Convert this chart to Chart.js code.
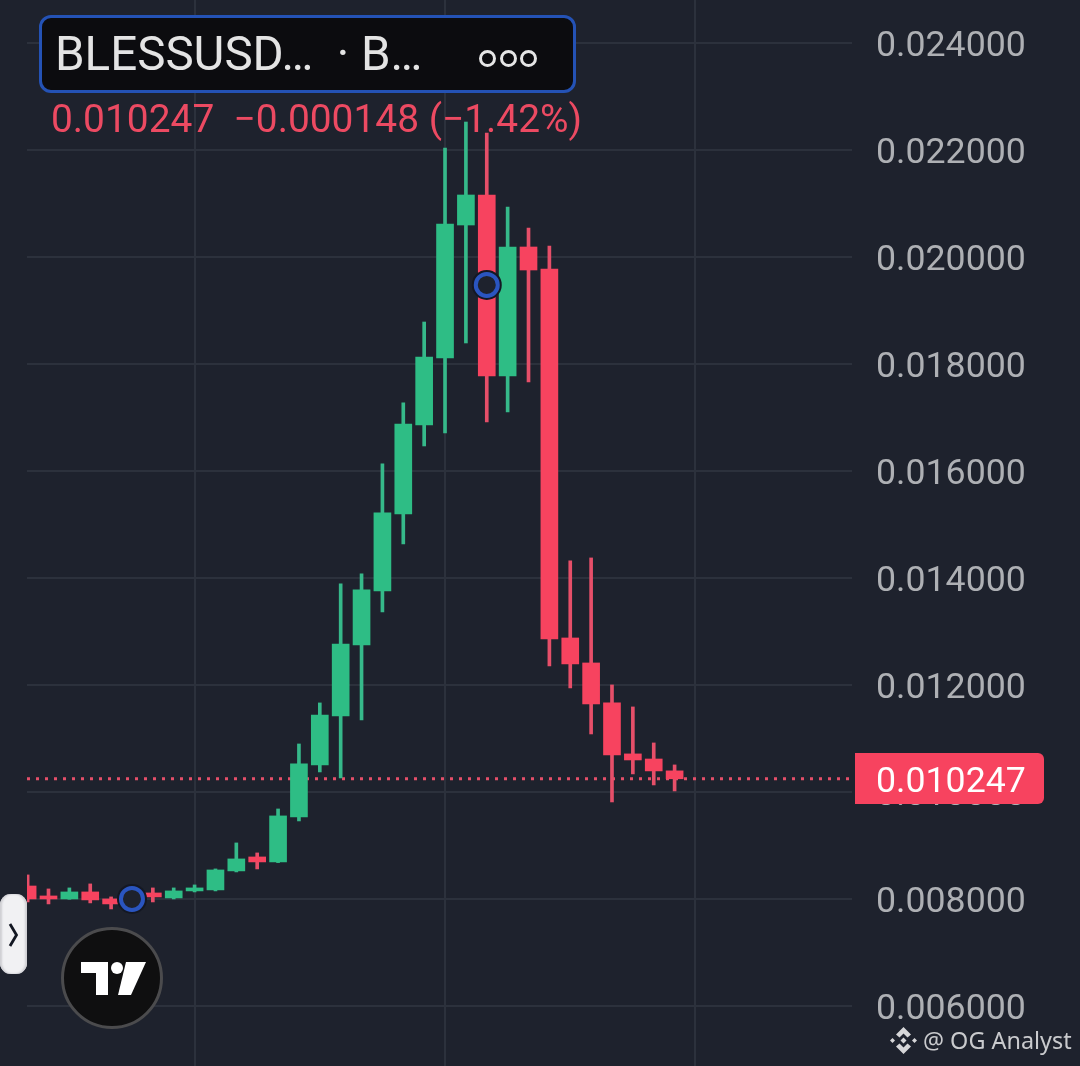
<!DOCTYPE html>
<html>
<head>
<meta charset="utf-8">
<title>BLESSUSD</title>
<script src="https://cdn.jsdelivr.net/npm/chart.js@4"></script>
<style>
    html, body { margin:0; padding:0; background:#1e222d; width:1080px; height:1066px; overflow:hidden; font-family:Roboto, sans-serif; }
    #wrap { position:relative; width:1080px; height:1066px; }
    canvas { position:absolute; left:0; top:0; }
    .abs { position:absolute; white-space:pre; }
    .ring { position:absolute; top:32px; width:11px; height:11px; border:3px solid #e6e6e6; border-radius:50%; }
</style>
</head>
<body>
<div id="wrap">
    <canvas id="chart" width="1080" height="1066"></canvas>

    <div class="abs" style="left:39px; top:15px; width:531px; height:72px; background:#0c0c0f; border:3px solid #2452b5; border-radius:12px;">
        <div class="abs" style="left:13px; top:9px; font-size:47.5px; line-height:54px; font-weight:400; color:#e4e4e4;">BLESSUSD…  · B…</div>
        <div class="ring" style="left:437px;"></div>
        <div class="ring" style="left:458px;"></div>
        <div class="ring" style="left:478px;"></div>
    </div>
    <div class="abs" style="left:51px; top:97px; font-size:38.9px; line-height:44px; font-weight:400; color:#ec4a62;">0.010247  −0.000148 (−1.42%)</div>

    <div class="abs" style="left:855px; top:753px; width:189px; height:51px; background:#f7435f; border-radius:0 6px 6px 0;">
        <div class="abs" style="left:21px; top:5px; font-size:35.7px; line-height:44px; color:#fff;">0.010247</div>
    </div>

    <div class="abs" style="left:0; top:894px; width:27px; height:80px; background:#f1f1f3; border-radius:11px; box-shadow:inset -2px 0 2px #cfcfd3, inset 2px 0 2px #cfcfd3;">
        <svg width="27" height="80" style="position:absolute;left:0;top:0"><path d="M10 30 L16.5 41 L10 52" fill="none" stroke="#131722" stroke-width="2.8"/></svg>
    </div>

    <svg class="abs" style="left:60px; top:926px;" width="104" height="104" viewBox="0 0 104 104">
        <circle cx="52" cy="52" r="49.5" fill="#0f0f10" stroke="#4b4b4d" stroke-width="3"/>
        <path d="M21 36 H48 V69 H36 V47 H21 Z" fill="#fff"/>
        <circle cx="57" cy="42" r="6" fill="#fff"/>
        <path d="M66 36 H86 L71 69 H58 Z" fill="#fff"/>
    </svg>

    <svg class="abs" style="left:889px; top:1026px;" width="29" height="29" viewBox="0 0 29 29" fill="#d6d6d8">
        <path d="M14.5 1 L22 8.5 L18.5 11.5 L14.5 7.5 L10.5 11.5 L7 8.5 Z"/>
        <path d="M14.5 28 L22 20.5 L18.5 17.5 L14.5 21.5 L10.5 17.5 L7 20.5 Z"/>
        <path d="M1 14.5 L3.5 12 L6 14.5 L3.5 17 Z"/>
        <path d="M23 14.5 L25.5 12 L28 14.5 L25.5 17 Z"/>
        <path d="M14.5 11.5 L17.5 14.5 L14.5 17.5 L11.5 14.5 Z"/>
    </svg>
    <div class="abs" style="left:923px; top:1024px; font-family:'Noto Sans',sans-serif; font-size:23.4px; line-height:32px; color:#c9cacd;">@ OG Analyst</div>
</div>

<script>
// candles, oldest first
const opens  = [0.008243,0.008057,0.008001,0.008132,0.008001,0.007990,0.008113,0.008020,0.008151,0.008170,0.008525,0.008786,0.008693,0.009534,0.010506,0.011422,0.012749,0.013758,0.015197,0.016860,0.018113,0.020598,0.021159,0.017776,0.020187,0.019776,0.012879,0.012412,0.011665,0.010712,0.010617,0.010395];
const highs  = [0.008450,0.008188,0.008207,0.008282,0.008039,0.008060,0.008207,0.008207,0.008263,0.008562,0.009048,0.008861,0.009683,0.010898,0.011665,0.013889,0.014076,0.016132,0.017272,0.018785,0.022038,0.022523,0.022318,0.020935,0.020542,0.020206,0.014319,0.014375,0.012001,0.011590,0.010917,0.010506];
const lows   = [0.007945,0.007908,0.007995,0.007927,0.007814,0.007960,0.007945,0.008001,0.008132,0.008151,0.008506,0.008562,0.008680,0.009459,0.010375,0.010263,0.011347,0.013365,0.014636,0.016468,0.016711,0.018393,0.016916,0.017103,0.017664,0.012356,0.011945,0.011085,0.009814,0.010338,0.010132,0.010020];
const closes = [0.008001,0.008001,0.008132,0.007983,0.007908,0.008030,0.008039,0.008151,0.008207,0.008543,0.008749,0.008693,0.009553,0.010525,0.011440,0.012767,0.013777,0.015216,0.016879,0.018131,0.020617,0.021159,0.017776,0.020187,0.019757,0.012861,0.012394,0.011646,0.010693,0.010599,0.010394,0.010247];

const lastPrice = 0.010247;
const markerIndex = [5, 22];
const markerPrice = [0.008001, 0.019477];
const priceTicks = [0.006, 0.008, 0.010, 0.012, 0.014, 0.016, 0.018, 0.020, 0.022, 0.024];
const timeTicks = [8, 20, 32];

const UP = '#2ebd85';
const DOWN = '#f7435f';
const UP_WICK = '#36b98a';
const DOWN_WICK = '#e64f69';
const GRID = '#2c313c';

const xMin = -0.03;
const xMax = 39.5;

const isUp = opens.map((o, i) => closes[i] >= o);
const markers = markerIndex.map((x, i) => ({ x: x, y: markerPrice[i] }));

// no extra room around the plot for half tick labels
const noPadding = axis => {
    axis.paddingTop = 0;
    axis.paddingBottom = 0;
    axis.paddingLeft = 0;
    axis.paddingRight = 0;
    if (axis._margins) {
        axis._margins.top = 0;
        axis._margins.bottom = 0;
    }
};

new Chart(document.getElementById('chart'), {
    data: {
        datasets: [
            {
                type: 'scatter', order: 0, data: markers,
                pointRadius: 11, pointBorderWidth: 4,
                pointBackgroundColor: '#1e222d', pointBorderColor: '#2a55c0'
            },
            {
                type: 'scatter', order: 1, data: markers,
                pointRadius: 15, pointBorderWidth: 0,
                pointBackgroundColor: '#141823'
            },
            {
                type: 'bar', order: 2, grouped: false, barThickness: 17,
                data: opens.map((o, i) => ({ x: i, y: [o, closes[i]] })),
                backgroundColor: isUp.map(u => u ? UP : DOWN),
                borderWidth: 0, borderSkipped: false
            },
            {
                type: 'bar', order: 3, grouped: false, barThickness: 3,
                data: lows.map((l, i) => ({ x: i, y: [l, highs[i]] })),
                backgroundColor: isUp.map(u => u ? UP_WICK : DOWN_WICK),
                borderWidth: 0, borderSkipped: false
            },
            {
                type: 'line', order: 4,
                data: [{ x: xMin, y: lastPrice }, { x: xMax, y: lastPrice }],
                borderColor: '#e64f69', borderWidth: 3, borderDash: [3, 6],
                pointRadius: 0
            }
        ]
    },
    options: {
        responsive: false,
        animation: false,
        layout: { autoPadding: false, padding: { left: 27, right: 0, top: 0, bottom: 0 } },
        plugins: { legend: { display: false }, tooltip: { enabled: false } },
        scales: {
            x: {
                type: 'linear', min: xMin, max: xMax, offset: false,
                afterBuildTicks: axis => { axis.ticks = timeTicks.map(v => ({ value: v })); },
                afterFit: axis => { axis.height = 0; noPadding(axis); },
                ticks: { display: false },
                grid: { color: GRID, lineWidth: 2, drawTicks: false, offset: false },
                border: { display: false }
            },
            y: {
                type: 'linear', position: 'right',
                min: 0.0048785, max: 0.0248037,
                afterBuildTicks: axis => { axis.ticks = priceTicks.map(v => ({ value: v })); },
                afterFit: axis => { axis.width = 228; noPadding(axis); },
                ticks: {
                    padding: 24, labelOffset: 4, color: '#aeb0b4',
                    font: { family: 'Roboto', size: 35.7 },
                    callback: v => v.toFixed(6)
                },
                grid: { color: GRID, lineWidth: 2, drawTicks: false },
                border: { display: false }
            }
        }
    }
});
</script>
</body>
</html>
